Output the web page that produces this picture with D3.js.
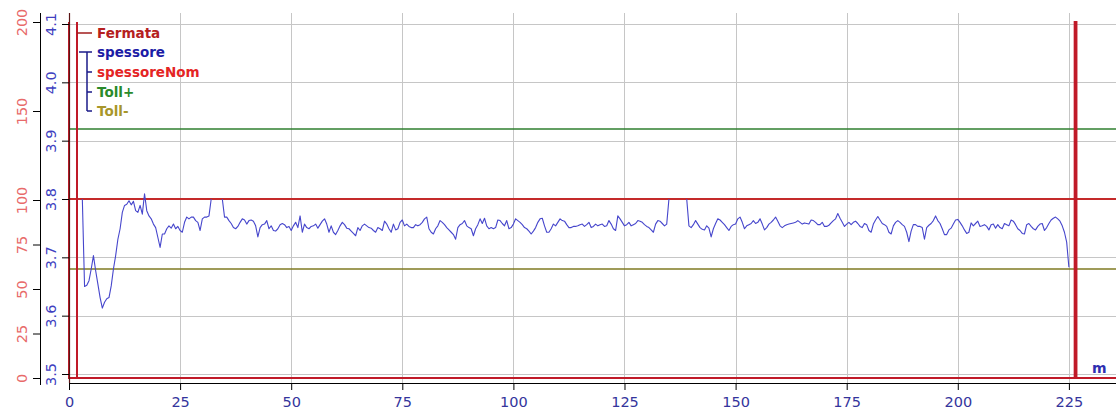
<!DOCTYPE html>
<html>
<head>
<meta charset="utf-8">
<script src="https://cdn.jsdelivr.net/npm/d3@7"></script>
<style>
  html, body { margin: 0; padding: 0; background: #ffffff; }
  svg { display: block; }
  text { font-family: "DejaVu Sans", Verdana, sans-serif; }
</style>
</head>
<body>
<svg id="chart" width="1116" height="412"></svg>
<script>
// ---- data -------------------------------------------------------------
// distance axis ticks (m)
const xTicks = [0, 25, 50, 75, 100, 125, 150, 175, 200, 225];
// thickness axis ticks (mm) and stop-signal axis ticks
const thickTicks = [3.5, 3.6, 3.7, 3.8, 3.9, 4.0, 4.1];
const stopTicks = [0, 25, 50, 75, 100, 150, 200];

// reference thickness and tolerance limits
const spessoreNom = 3.80;
const tollPlus = 3.92;
const tollMinus = 3.68;

// stop signal (Fermata): distance / value pairs
const fermataDist = [0, 0, 1.8, 1.8, 1.8, 226.3, 226.3, 226.7, 226.7, 235.6];
const fermataVal  = [200, 0, 0, 200, 0, 0, 200, 200, 0, 0];

// measured thickness, sampled every 0.5 m, in three recorded runs
const sampleStep = 0.5;
const runAStart = 3.0;
const runA = [
  3.800, 3.650, 3.652, 3.660, 3.680, 3.703, 3.677, 3.654, 3.631, 3.613,
  3.623, 3.629, 3.631, 3.651, 3.680, 3.703, 3.731, 3.749, 3.777, 3.789,
  3.791, 3.797, 3.790, 3.796, 3.780, 3.777, 3.789, 3.774, 3.809, 3.780,
  3.771, 3.766, 3.757, 3.751, 3.734, 3.717, 3.740, 3.740, 3.749, 3.754,
  3.750, 3.757, 3.749, 3.753, 3.746, 3.743, 3.760, 3.769, 3.766, 3.769,
  3.769, 3.763, 3.760, 3.746, 3.766, 3.769, 3.769, 3.771, 3.800
];
const runBStart = 34.5;
const runB = [
  3.800, 3.769, 3.769, 3.763, 3.758, 3.751, 3.749, 3.753, 3.760, 3.766,
  3.764, 3.757, 3.763, 3.764, 3.762, 3.754, 3.735, 3.751, 3.756, 3.757,
  3.763, 3.749, 3.754, 3.746, 3.745, 3.749, 3.756, 3.758, 3.756, 3.751,
  3.753, 3.746, 3.754, 3.760, 3.751, 3.771, 3.743, 3.757, 3.751, 3.749,
  3.753, 3.754, 3.757, 3.750, 3.756, 3.762, 3.766, 3.757, 3.743, 3.754,
  3.743, 3.739, 3.746, 3.754, 3.760, 3.756, 3.750, 3.749, 3.745, 3.741,
  3.737, 3.751, 3.746, 3.754, 3.757, 3.754, 3.751, 3.750, 3.746, 3.743,
  3.751, 3.749, 3.746, 3.762, 3.757, 3.749, 3.743, 3.757, 3.747, 3.749,
  3.760, 3.764, 3.754, 3.757, 3.753, 3.751, 3.751, 3.756, 3.754, 3.756,
  3.760, 3.766, 3.769, 3.749, 3.743, 3.740, 3.749, 3.754, 3.763, 3.760,
  3.756, 3.751, 3.747, 3.743, 3.739, 3.731, 3.751, 3.756, 3.758, 3.763,
  3.754, 3.751, 3.749, 3.737, 3.749, 3.756, 3.766, 3.758, 3.767, 3.754,
  3.749, 3.751, 3.749, 3.751, 3.764, 3.763, 3.758, 3.754, 3.763, 3.749,
  3.751, 3.757, 3.766, 3.763, 3.760, 3.756, 3.751, 3.749, 3.745, 3.740,
  3.745, 3.751, 3.760, 3.766, 3.767, 3.754, 3.743, 3.743, 3.749, 3.757,
  3.754, 3.760, 3.766, 3.763, 3.762, 3.756, 3.751, 3.751, 3.753, 3.753,
  3.754, 3.756, 3.757, 3.753, 3.756, 3.760, 3.751, 3.753, 3.757, 3.754,
  3.756, 3.757, 3.753, 3.754, 3.763, 3.757, 3.749, 3.746, 3.771, 3.766,
  3.760, 3.754, 3.756, 3.760, 3.754, 3.756, 3.758, 3.763, 3.762, 3.760,
  3.756, 3.753, 3.751, 3.747, 3.743, 3.757, 3.763, 3.762, 3.758, 3.754,
  3.757, 3.800
];
const runCStart = 139.0;
const runC = [
  3.800, 3.754, 3.751, 3.756, 3.763, 3.757, 3.751, 3.748, 3.747, 3.754,
  3.750, 3.735, 3.749, 3.758, 3.766, 3.764, 3.760, 3.756, 3.751, 3.746,
  3.753, 3.756, 3.757, 3.766, 3.769, 3.760, 3.749, 3.754, 3.756, 3.758,
  3.763, 3.758, 3.760, 3.766, 3.757, 3.747, 3.751, 3.757, 3.760, 3.764,
  3.769, 3.762, 3.754, 3.751, 3.754, 3.756, 3.757, 3.758, 3.759, 3.760,
  3.763, 3.760, 3.757, 3.759, 3.758, 3.757, 3.764, 3.763, 3.760, 3.756,
  3.756, 3.760, 3.753, 3.753, 3.755, 3.759, 3.763, 3.766, 3.775, 3.767,
  3.760, 3.753, 3.757, 3.760, 3.756, 3.760, 3.762, 3.758, 3.753, 3.751,
  3.758, 3.756, 3.746, 3.743, 3.757, 3.764, 3.770, 3.764, 3.758, 3.756,
  3.753, 3.743, 3.740, 3.754, 3.760, 3.763, 3.760, 3.756, 3.753, 3.743,
  3.727, 3.745, 3.756, 3.756, 3.753, 3.753, 3.751, 3.731, 3.751, 3.755,
  3.758, 3.763, 3.771, 3.763, 3.758, 3.749, 3.739, 3.739, 3.747, 3.750,
  3.757, 3.764, 3.765, 3.760, 3.754, 3.747, 3.741, 3.743, 3.759, 3.754,
  3.758, 3.762, 3.753, 3.754, 3.756, 3.753, 3.747, 3.756, 3.757, 3.750,
  3.756, 3.751, 3.749, 3.758, 3.756, 3.754, 3.764, 3.762, 3.756, 3.749,
  3.746, 3.741, 3.740, 3.756, 3.758, 3.753, 3.749, 3.747, 3.753, 3.757,
  3.758, 3.746, 3.751, 3.758, 3.764, 3.767, 3.769, 3.766, 3.762, 3.754,
  3.743, 3.726, 3.683
];

// legend entries
const legendNames = ["Fermata", "spessore", "spessoreNom", "Toll+", "Toll-"];
const legendColors = ["#b52020", "#1c1ca6", "#e42424", "#2a8a2a", "#a8962a"];

// ---- layout -----------------------------------------------------------
const svg = d3.select("#chart");
const plot = { left: 69, right: 1116, top: 13, bottom: 383 };

const x = d3.scaleLinear().domain([0, 235.6]).range([plot.left, plot.right]);
const yThick = d3.scaleLinear().domain([3.5, 4.1]).range([374, 24]);
const yStop = d3.scaleLinear().domain([0, 200]).range([378, 22]);

// ---- grid -------------------------------------------------------------
const grid = svg.append("g").attr("stroke", "#c6c6c6").attr("stroke-width", 1);
grid.selectAll("line.v").data(xTicks.filter(d => d > 0)).join("line")
  .attr("x1", d => Math.round(x(d)) + 0.5).attr("x2", d => Math.round(x(d)) + 0.5)
  .attr("y1", plot.top).attr("y2", plot.bottom);
grid.selectAll("line.h").data(thickTicks).join("line")
  .attr("x1", plot.left).attr("x2", plot.right)
  .attr("y1", d => Math.round(yThick(d)) + 0.5).attr("y2", d => Math.round(yThick(d)) + 0.5);

// ---- reference lines --------------------------------------------------
const refs = [
  { v: tollPlus, c: "#2f7f2f", w: 1.6 },
  { v: tollMinus, c: "#7f7a22", w: 1.6 },
  { v: spessoreNom, c: "#c42a2a", w: 2 }
];
svg.append("g").selectAll("line").data(refs).join("line")
  .attr("x1", plot.left).attr("x2", plot.right)
  .attr("y1", d => yThick(d.v)).attr("y2", d => yThick(d.v))
  .attr("stroke", d => d.c).attr("stroke-width", d => d.w);

// ---- thickness series -------------------------------------------------
const thickLine = d3.line()
  .x(d => x(d[0]))
  .y(d => yThick(d[1]));
const runs = [[runAStart, runA], [runBStart, runB], [runCStart, runC]];
svg.append("g").selectAll("path").data(runs).join("path")
  .attr("d", ([start, vals]) => thickLine(vals.map((v, i) => [start + i * sampleStep, v])))
  .attr("fill", "none")
  .attr("stroke", "#4646cc")
  .attr("stroke-width", 1.1)
  .attr("stroke-linejoin", "round");

// ---- stop signal ------------------------------------------------------
const stopLine = d3.line().x(d => x(d[0])).y(d => yStop(d[1]));
svg.append("path")
  .attr("d", stopLine(fermataDist.map((d, i) => [d, fermataVal[i]])))
  .attr("fill", "none")
  .attr("stroke", "#c01a28")
  .attr("stroke-width", 2);

// ---- axes -------------------------------------------------------------
const axisFont = 14.5;

// distance axis
const xAxis = svg.append("g")
  .attr("transform", `translate(0,${plot.bottom})`)
  .call(d3.axisBottom(x).tickValues(xTicks).tickFormat(d3.format("d")).tickSizeInner(7).tickSizeOuter(0));
xAxis.select(".domain").attr("stroke", "#000");
xAxis.selectAll("text")
  .attr("fill", "#34349c").attr("font-size", axisFont).attr("dy", "0.95em")
  .style("font-family", '"DejaVu Sans", sans-serif');

// rotated tick labels for the vertical axes
function rotateLabels(g, color, fmt) {
  g.selectAll(".tick text").remove();
  g.selectAll(".tick").append("text")
    .attr("transform", "translate(-18,0) rotate(-90)")
    .attr("text-anchor", "middle")
    .attr("dy", "0.36em")
    .attr("fill", color)
    .attr("font-size", axisFont)
    .style("font-family", '"DejaVu Sans", sans-serif')
    .text(d => fmt(d));
}

// thickness axis (blue)
const thickAxis = svg.append("g")
  .attr("transform", `translate(${plot.left},0)`)
  .call(d3.axisLeft(yThick).tickValues(thickTicks).tickSizeInner(7).tickSizeOuter(0));
thickAxis.select(".domain").remove();
rotateLabels(thickAxis, "#4040c0", d3.format(".1f"));

// stop-signal axis (red)
const stopAxis = svg.append("g")
  .attr("transform", "translate(40,0)")
  .call(d3.axisLeft(yStop).tickValues(stopTicks).tickSizeInner(7).tickSizeOuter(0));
stopAxis.select(".domain").remove();
rotateLabels(stopAxis, "#e86a6a", d3.format("d"));

// axis spines
svg.append("line").attr("x1", 40.5).attr("x2", 40.5).attr("y1", plot.top).attr("y2", 385)
  .attr("stroke", "#000").attr("stroke-width", 1);
svg.append("line").attr("x1", plot.left + 0.5).attr("x2", plot.left + 0.5).attr("y1", plot.top).attr("y2", plot.bottom)
  .attr("stroke", "#5a1414").attr("stroke-width", 1.2);

// unit label
svg.append("text")
  .attr("x", 1092).attr("y", 373)
  .attr("fill", "#2e2eb0").attr("font-size", 14).attr("font-weight", "bold")
  .text("m");

// ---- legend -----------------------------------------------------------
const legendY = [33, 52, 72, 92, 111];
const legend = svg.append("g");
legend.append("line").attr("x1", x(1.8)).attr("x2", 92).attr("y1", legendY[0]).attr("y2", legendY[0])
  .attr("stroke", "#a01c1c").attr("stroke-width", 1.5);
legend.append("line").attr("x1", 79).attr("x2", 92).attr("y1", legendY[1]).attr("y2", legendY[1])
  .attr("stroke", "#1a1a88").attr("stroke-width", 1.5);
legend.append("line").attr("x1", 87).attr("x2", 87).attr("y1", legendY[1]).attr("y2", legendY[4])
  .attr("stroke", "#1a1a88").attr("stroke-width", 1.5);
legend.selectAll("line.tk").data(legendY.slice(2)).join("line")
  .attr("x1", 87).attr("x2", 92).attr("y1", d => d).attr("y2", d => d)
  .attr("stroke", "#1a1a88").attr("stroke-width", 1.5);
legend.selectAll("text").data(legendNames).join("text")
  .attr("x", 97).attr("y", (d, i) => legendY[i]).attr("dy", "0.36em")
  .attr("fill", (d, i) => legendColors[i])
  .attr("font-size", 13.5).attr("font-weight", "bold")
  .text(d => d);
</script>
</body>
</html>
